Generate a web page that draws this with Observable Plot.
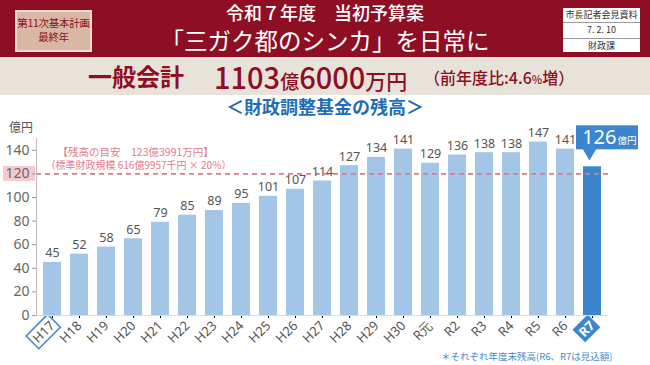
<!DOCTYPE html>
<html><head><meta charset="utf-8">
<script src="https://cdn.jsdelivr.net/npm/d3@7"></script>
<script src="https://cdn.jsdelivr.net/npm/@observablehq/plot@0.6"></script>
<style>
body{margin:0;width:650px;height:365px;overflow:hidden;font-family:"Noto Sans CJK JP",sans-serif;background:#fff;position:relative}
#hdr{position:absolute;left:0;top:0;width:650px;height:57px;background:#8e0f24}
#plan{position:absolute;left:15px;top:10px;width:73px;height:34px;background:#d8b8a5;border:2px solid #ecdccf;color:#8e0f24;font-size:10.5px;line-height:14px;text-align:center;padding-top:4px;white-space:nowrap;letter-spacing:-0.3px}
#t1{position:absolute;left:0;width:650px;top:3px;text-align:center;color:#fff;font-size:18px;line-height:1;font-weight:500}
#t2{position:absolute;left:0;width:650px;top:29px;text-align:center;color:#fff;font-size:23.5px;line-height:1}
#info{position:absolute;left:563px;top:8px;width:77px;height:44px;background:#fff;color:#333;font-size:9px;text-align:center}
#info div{height:14.33px;line-height:14.33px;border-bottom:1px solid #999}
#info div:last-child{border-bottom:none}
#band{position:absolute;left:0;top:57px;width:650px;height:38px;background:#e7e3db;color:#8e0f24;white-space:nowrap}
#band > span{position:absolute;line-height:1}
#sub{position:absolute;left:0;width:650px;top:97px;text-align:center;color:#1f6db5;font-size:18px;font-weight:bold;line-height:1;z-index:2}
#chart{position:absolute;left:0;top:95px;width:650px;height:270px}
#unit{position:absolute;left:9px;top:121px;font-size:12px;line-height:1;color:#555;z-index:2}
#note{position:absolute;left:441px;top:352px;font-size:9.5px;line-height:1;color:#4a8ccc;z-index:2;white-space:nowrap}
</style></head>
<body>
<div id="hdr">
  <div id="plan">第11次基本計画<br>最終年</div>
  <div id="t1">令和７年度　当初予算案</div>
  <div id="t2">「三ガク都のシンカ」を日常に</div>
  <div id="info"><div>市長記者会見資料</div><div>7. 2. 10</div><div>財政課</div></div>
</div>
<div id="band">
  <span style="left:88px;top:7px;font-size:24px;font-weight:bold">一般会計</span>
  <span style="left:214px;top:5px;font-size:29px;font-weight:500">1103<span style="font-size:19px">億</span>6000<span style="font-size:21px">万円</span></span>
  <span style="left:424px;top:12px;font-size:16px;font-weight:500">（前年度比:4.6<span style="font-size:11px">%</span>増）</span>
</div>
<div id="chart"></div>
<div id="sub">＜財政調整基金の残高＞</div>
<div id="unit">億円</div>
<div id="note">＊それぞれ年度末残高(R6、R7は見込額)</div>
<script>
const years = ["H17","H18","H19","H20","H21","H22","H23","H24","H25","H26","H27","H28","H29","H30","R元","R2","R3","R4","R5","R6","R7"];
const balances = [45,52,58,65,79,85,89,95,101,107,114,127,134,141,129,136,138,138,147,141,126];
const yTicks = [0,20,40,60,80,100,120,140];
const targetValue = 120;
const noteLine1 = "【残高の目安　123億3991万円】";
const noteLine2 = "（標準財政規模 616億9957千円 × 20%）";
const latestUnit = "億円";

const data = years.map((y,i)=>({year:y, value:balances[i], latest:i===years.length-1}));
const past = data.filter(d=>!d.latest);
const latest = data.filter(d=>d.latest);
const first = [data[0]];

const blue = "#3b86cf", light = "#a3c6e6", pink = "#e27a8b";
const cjk = '"Noto Sans CJK JP", sans-serif';

function build(withHighlight){
  const marks = [];
  if (withHighlight) {
    marks.push(Plot.rect([targetValue], {y1:d=>d-6.4, y2:d=>d+6.4, insetLeft:-33, insetRight:573, fill:"#f6c9d0"}));
  }
  marks.push(
    Plot.ruleY([0],{stroke:"#e6d6d6"}),
    Plot.barY(data,{x:"year", y:"value", fill:d=>d.latest?blue:light}),
    Plot.ruleY([targetValue],{stroke:pink, strokeWidth:1.6, strokeDasharray:"5,4"}),
    Plot.frame({anchor:"left", stroke:"#c8b8b8"}),
    Plot.axisY({ticks:yTicks, tickSize:4, tickPadding:3, fontSize:14, stroke:"#999", fill:"#666", label:null}),
    Plot.text(past,{x:"year", y:"value", text:d=>String(d.value), dy:-9, fontSize:12.5, fill:"#555"}),
    Plot.text(first,{x:"year", y:()=>138, text:()=>noteLine1, textAnchor:"start", dx:5, fontSize:10.5, fill:pink, fontFamily:cjk}),
    Plot.text(first,{x:"year", y:()=>127, text:()=>noteLine2, textAnchor:"start", dx:-7, fontSize:10, fill:pink, fontFamily:cjk}),
    Plot.barY(latest,{x:"year", y1:"value", y2:"value", insetLeft:-7, insetRight:-37, insetTop:-41, insetBottom:17, fill:blue}),
    Plot.dot(latest,{x:"year", y:"value", symbol:"triangle", r:5, rotate:180, dy:-14, dx:-3, fill:blue}),
    Plot.text(latest,{x:"year", y:"value", text:d=>String(d.value), textAnchor:"end", dx:24, dy:-29, fontSize:20, fill:"#fff"}),
    Plot.text(latest,{x:"year", y:"value", text:()=>latestUnit, textAnchor:"start", dx:25, dy:-26, fontSize:9.5, fill:"#fff", fontFamily:cjk})
  );
  return Plot.plot({
    width:650, height:270,
    marginLeft:36, marginRight:42, marginTop:43, marginBottom:50,
    x:{domain:years, paddingInner:0.34, paddingOuter:0.2, label:null, tickRotate:-45, tickSize:3, tickPadding:5},
    y:{domain:[0,150], label:null, axis:null},
    marks
  });
}
let chart;
try { chart = build(true); } catch(e) { chart = build(false); }
document.getElementById("chart").appendChild(chart);

// boxes behind the first and last year labels (same transform as the label)
chart.querySelectorAll('g[aria-label="x-axis tick label"] text').forEach(function(el){
  try {
    el.setAttribute("font-size", "13");
    el.setAttribute("fill", "#555");
    const t = el.textContent.trim();
    if (t !== years[0] && t !== years[years.length-1]) return;
    const bb = el.getBBox();
    const r = document.createElementNS("http://www.w3.org/2000/svg", "rect");
    const tr = el.getAttribute("transform"); if (tr) r.setAttribute("transform", tr);
    r.setAttribute("x", bb.x-3); r.setAttribute("y", bb.y);
    r.setAttribute("width", bb.width+6); r.setAttribute("height", bb.height);
    if (t === years[0]) { r.setAttribute("fill","none"); r.setAttribute("stroke",blue); r.setAttribute("stroke-width","1.5"); }
    else { r.setAttribute("fill",blue); el.setAttribute("fill","#fff"); el.setAttribute("font-weight","bold"); }
    el.parentNode.insertBefore(r, el);
  } catch(e) {}
});
</script>
</body></html>
